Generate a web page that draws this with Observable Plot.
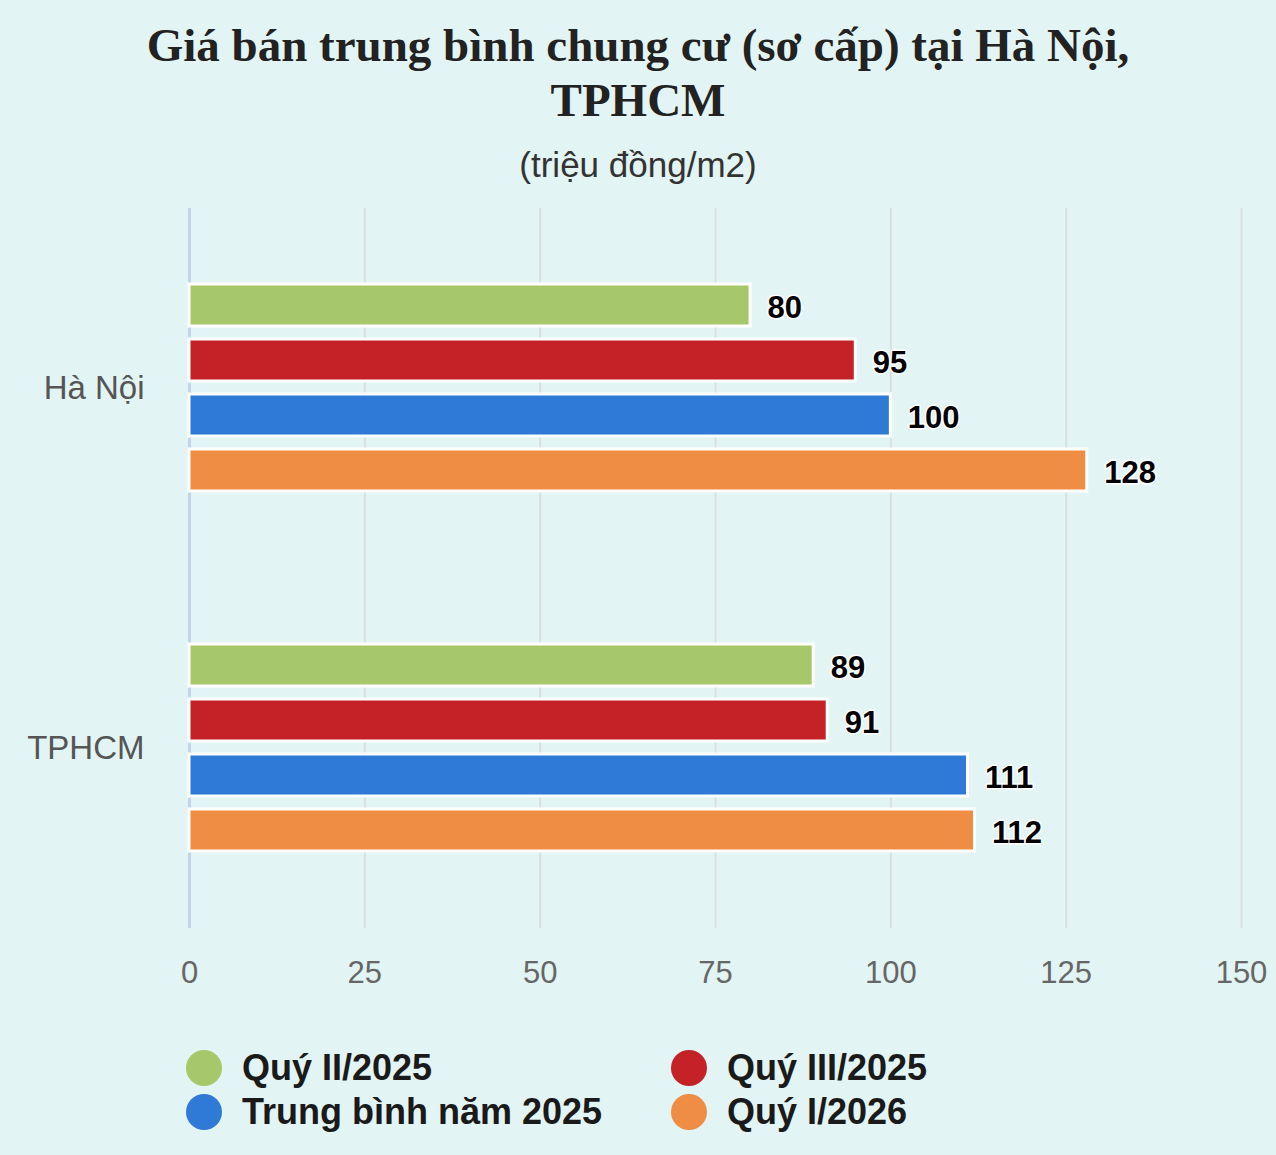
<!DOCTYPE html>
<html>
<head>
<meta charset="utf-8">
<script src="https://cdn.jsdelivr.net/npm/d3@7"></script>
<script src="https://cdn.jsdelivr.net/npm/@observablehq/plot@0.6"></script>
<style>
  html, body { margin: 0; padding: 0; background: #e2f4f3; }
  body { width: 1276px; height: 1155px; overflow: hidden; font-family: "Liberation Sans", Arial, sans-serif; }
  #title { font-family: "Liberation Serif", "Times New Roman", serif; font-weight: bold; font-size: 47px; line-height: 55px; color: #222; text-align: center; padding-top: 18px; height: 110px; }
  #subtitle { font-size: 35px; color: #333; text-align: center; margin-top: 15px; line-height: 44px; height: 44px; }
  #chart { height: 853px; }
  #chart svg { display: block; }
  #legend { display: flex; flex-wrap: wrap; padding-left: 186px; margin-top: 6px; }
  .item { width: 485px; display: flex; align-items: center; height: 44px; }
  .dot { width: 36px; height: 36px; border-radius: 50%; margin-right: 20px; }
  .lbl { font-weight: bold; font-size: 36px; color: #1a1a1a; }
</style>
</head>
<body>
<div id="title">Giá bán trung bình chung cư (sơ cấp) tại Hà Nội,<br>TPHCM</div>
<div id="subtitle">(triệu đồng/m2)</div>
<div id="chart"></div>
<div id="legend"></div>
<script>
const cities = ["Hà Nội", "TPHCM"];
const series = ["Quý II/2025", "Quý III/2025", "Trung bình năm 2025", "Quý I/2026"];
const haNoiValues = [80, 95, 100, 128];
const tphcmValues = [89, 91, 111, 112];
const seriesColors = ["#a6c86b", "#c52227", "#2f7ad6", "#f08d45"];
const xTicks = [0, 25, 50, 75, 100, 125, 150];

const rows = [];
[haNoiValues, tphcmValues].forEach((vals, ci) => {
  vals.forEach((v, si) => rows.push({city: cities[ci], series: series[si], value: v}));
});

const chart = Plot.plot({
  width: 1276,
  height: 853,
  marginTop: 20,
  marginBottom: 112,
  marginLeft: 189,
  marginRight: 35,
  style: {background: "transparent", fontFamily: "Liberation Sans, Arial, sans-serif"},
  x: {domain: [0, 150], axis: null},
  y: {domain: series, axis: null, paddingInner: 0.236, paddingOuter: 1.39},
  fy: {domain: cities, padding: 0},
  color: {domain: series, range: seriesColors},
  marks: [
    Plot.gridX(xTicks, {stroke: "#d9dfe3", strokeOpacity: 1, strokeWidth: 2}),
    Plot.ruleX([0], {stroke: "#c3d4ea", strokeWidth: 3}),
    Plot.axisX({ticks: xTicks, tickSize: 0, tickPadding: 32, fontSize: 31, fill: "#666", label: null, facetAnchor: "bottom"}),
    Plot.axisFy({anchor: "left", tickSize: 0, tickPadding: 45, fontSize: 33, fill: "#555", label: null}),
    Plot.barX(rows, {x: "value", y: "series", fy: "city", fill: "series", stroke: "white", strokeWidth: 3}),
    Plot.text(rows, {x: "value", y: "series", fy: "city", text: d => String(d.value), dx: 17, dy: 3, textAnchor: "start", fontSize: 31, fontWeight: "bold", fill: "black", stroke: "white", strokeWidth: 3})
  ]
});
document.getElementById("chart").appendChild(chart);

const legend = document.getElementById("legend");
series.forEach((s, i) => {
  const item = document.createElement("div");
  item.className = "item";
  item.innerHTML = `<span class="dot" style="background:${seriesColors[i]}"></span><span class="lbl">${s}</span>`;
  legend.appendChild(item);
});
</script>
</body>
</html>
